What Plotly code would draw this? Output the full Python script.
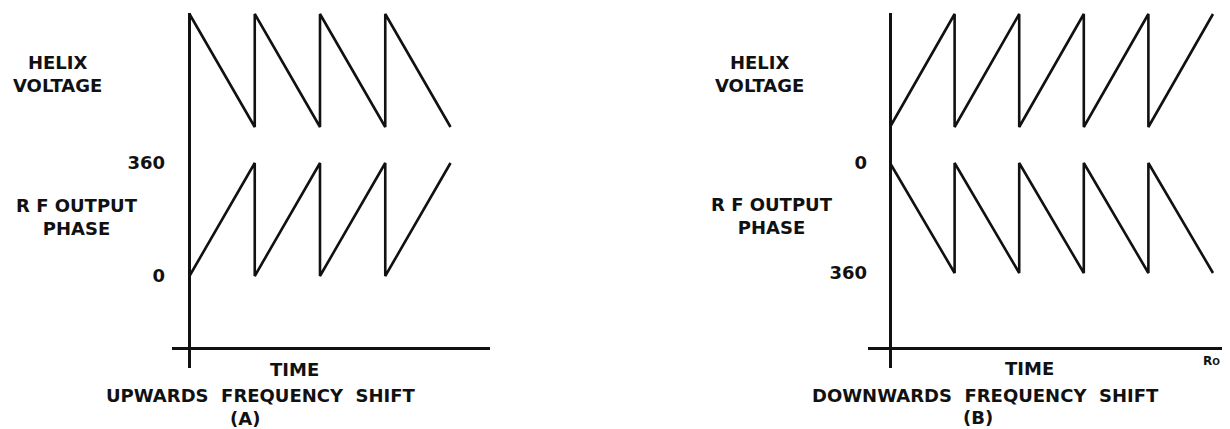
import plotly.graph_objects as go

# (A) upwards frequency shift
time_up = [0, 1, 1, 2, 2, 3, 3, 4]
helix_up = [1, 0, 1, 0, 1, 0, 1, 0]
phase_up = [0, 360, 0, 360, 0, 360, 0, 360]

# (B) downwards frequency shift
time_down = [0, 1, 1, 2, 2, 3, 3, 4, 4, 5]
helix_down = [0, 1, 0, 1, 0, 1, 0, 1, 0, 1]
phase_down = [0, 360, 0, 360, 0, 360, 0, 360, 0, 360]

phase_ticks = [0, 360]
phase_ticktext = ["0", "360"]

# page body has an 8px margin, so the figure is a bit smaller than the window
OFF = 8
W, H = 1230 - OFF, 429 - OFF
INK = "#111111"
LW = 2.6
FONT = dict(family="DejaVu Sans", size=18, color=INK, weight="bold")


def px(x, y):
    return (x - OFF) / W, 1 - (y - OFF) / H


line = dict(color=INK, width=LW)
fig = go.Figure()
fig.add_trace(go.Scatter(x=time_up, y=helix_up, mode="lines", line=line, xaxis="x", yaxis="y2"))
fig.add_trace(go.Scatter(x=time_up, y=phase_up, mode="lines", line=line, xaxis="x", yaxis="y"))
fig.add_trace(go.Scatter(x=time_down, y=helix_down, mode="lines", line=line, xaxis="x2", yaxis="y4"))
fig.add_trace(go.Scatter(x=time_down, y=phase_down, mode="lines", line=line, xaxis="x2", yaxis="y3"))

ydom = [px(0, 368)[1], px(0, 13)[1]]
time_axis = dict(anchor="free", position=px(0, 348)[1], showline=True, linewidth=LW, linecolor=INK,
                 showticklabels=False, ticks="", showgrid=False,
                 zeroline=True, zerolinewidth=LW, zerolinecolor=INK)
phase_axis = dict(domain=ydom, tickvals=phase_ticks, ticktext=phase_ticktext, ticks="",
                  showgrid=False, zeroline=False, showline=False, tickfont=FONT)
helix_axis = dict(visible=False, range=[-2.133, 1.009], showgrid=False, zeroline=False)

fig.update_layout(
    width=W, height=H,
    margin=dict(l=0, r=0, t=0, b=0),
    paper_bgcolor="white", plot_bgcolor="rgba(0,0,0,0)",
    showlegend=False,
    xaxis=dict(domain=[px(172, 0)[0], px(490, 0)[0]], range=[-0.268, 4.605], **time_axis),
    xaxis2=dict(domain=[px(868, 0)[0], px(1225, 0)[0]], range=[-0.341, 5.186], **time_axis),
    yaxis=dict(anchor="x", range=[-293.1, 837.9], ticklabelstandoff=6, **phase_axis),
    yaxis2=dict(anchor="x", overlaying="y", **helix_axis),
    yaxis3=dict(anchor="x2", range=[670.9, -490.9], **phase_axis),
    yaxis4=dict(anchor="x2", overlaying="y3", **helix_axis),
)

labels = [
    ("HELIX<br>VOLTAGE", 57, 74, 18),
    ("R F OUTPUT<br>PHASE", 77, 217, 18),
    ("TIME", 294, 369, 18),
    ("UPWARDS&nbsp; FREQUENCY&nbsp; SHIFT", 261, 395, 18),
    ("(A)", 245, 418, 18),
    ("HELIX<br>VOLTAGE", 759, 74, 18),
    ("R F OUTPUT<br>PHASE", 772, 216, 18),
    ("TIME", 1029, 368, 18),
    ("DOWNWARDS&nbsp; FREQUENCY&nbsp; SHIFT", 985, 395, 18),
    ("(B)", 978, 417, 18),
    ("R<span style='font-size:9px'>O</span>", 1211, 361, 12),
]
for text, x, y, size in labels:
    ax, ay = px(x, y)
    fig.add_annotation(text=text, x=ax, y=ay, xref="paper", yref="paper",
                       xanchor="center", yanchor="middle", showarrow=False,
                       font=dict(FONT, size=size), align="center")

fig.write_html("out.html")
